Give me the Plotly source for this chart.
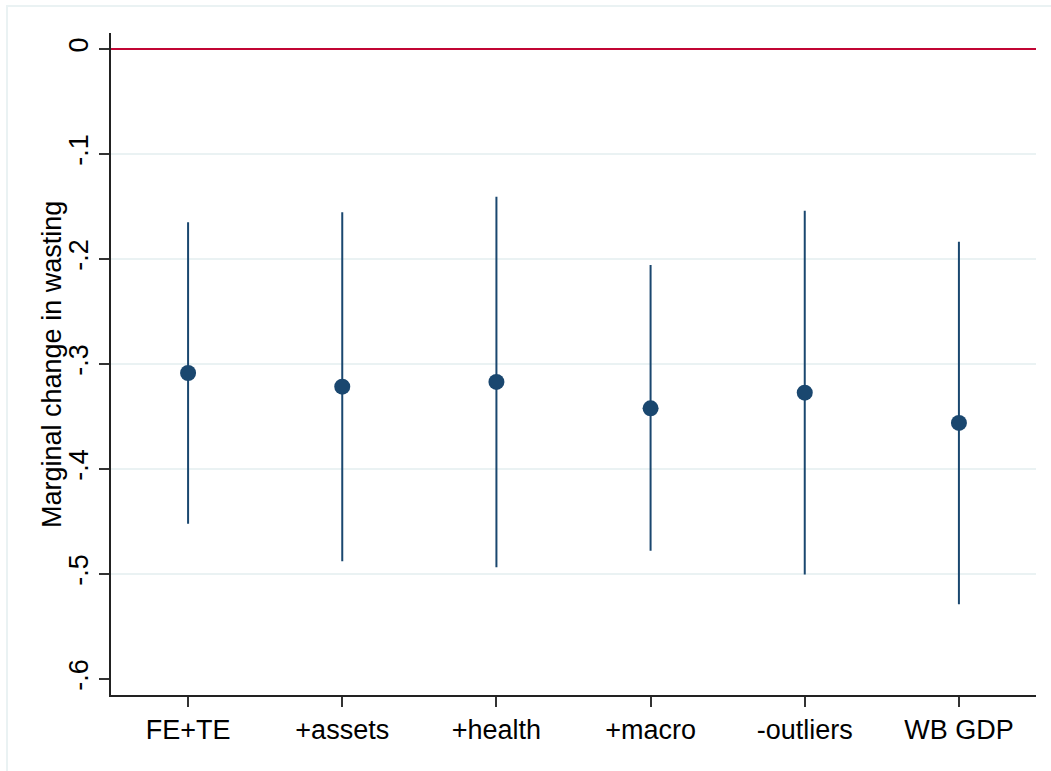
import plotly.graph_objects as go

# Model specifications and their estimated marginal effects with 95% CIs
specs = ["FE+TE", "+assets", "+health", "+macro", "-outliers", "WB GDP"]
estimate = [-0.3086, -0.3216, -0.3171, -0.3422, -0.3273, -0.3561]
ci_upper = [-0.1649, -0.1554, -0.1408, -0.2058, -0.1541, -0.1836]
ci_lower = [-0.4522, -0.4878, -0.4935, -0.4779, -0.5005, -0.5287]

y_ticks = [0, -0.1, -0.2, -0.3, -0.4, -0.5, -0.6]
y_tick_text = ["0", "-.1", "-.2", "-.3", "-.4", "-.5", "-.6"]
grid_vals = [-0.1, -0.2, -0.3, -0.4, -0.5]
y_title = "Marginal change in wasting"

navy = "#1a476f"
grid_col = "#eaf2f3"
font_fam = "Liberation Sans, Arial, sans-serif"
fsize = 27

x_pos = list(range(1, len(specs) + 1))
err_plus = [u - e for u, e in zip(ci_upper, estimate)]
err_minus = [e - l for e, l in zip(estimate, ci_lower)]

fig = go.Figure()

# light horizontal gridlines
shapes = []
for g in grid_vals:
    shapes.append(dict(type="line", xref="x", yref="y", x0=0.5, x1=6.5, y0=g, y1=g,
                       line=dict(color=grid_col, width=2), layer="below"))
# reference line at zero
shapes.append(dict(type="line", xref="x", yref="y", x0=0.5, x1=6.5, y0=0, y1=0,
                   line=dict(color="#c10534", width=2), layer="above"))
# outer graph-region border
shapes.append(dict(type="rect", xref="paper", yref="paper",
                   x0=-0.1124, x1=1.1, y0=-0.2, y1=1.0408,
                   line=dict(color=grid_col, width=2), fillcolor="rgba(0,0,0,0)",
                   layer="below"))

fig.add_trace(go.Scatter(
    x=x_pos, y=estimate, mode="markers",
    marker=dict(color=navy, size=16, line=dict(width=0)),
    error_y=dict(type="data", symmetric=False, array=err_plus, arrayminus=err_minus,
                 color=navy, thickness=2, width=0),
    showlegend=False, hoverinfo="skip",
))

# vertical axis title placed close to the tick labels
fig.add_annotation(
    text=y_title, xref="paper", yref="paper", x=-0.0638, y=0.5,
    xanchor="center", yanchor="middle", textangle=-90, showarrow=False,
    font=dict(size=fsize, family=font_fam, color="#000000"),
)

fig.update_layout(
    width=1051, height=771,
    margin=dict(l=111, r=15, t=33, b=76),
    paper_bgcolor="white", plot_bgcolor="white",
    font=dict(family=font_fam, size=fsize, color="#000000"),
    shapes=shapes,
    xaxis=dict(
        range=[0.5, 6.5], tickmode="array", tickvals=x_pos, ticktext=specs,
        showgrid=False, zeroline=False, showline=True, linecolor="#222222", linewidth=1.5,
        ticks="outside", ticklen=10, tickwidth=1.5, tickcolor="#333333",
        tickfont=dict(size=fsize, family=font_fam, color="#000000"),
    ),
    yaxis=dict(
        range=[-0.6152, 0.0152], tickmode="array", tickvals=y_ticks, ticktext=y_tick_text,
        tickangle=-90, showgrid=False, zeroline=False, showline=True,
        linecolor="#222222", linewidth=1.5,
        ticks="outside", ticklen=10, tickwidth=1.5, tickcolor="#333333",
        tickfont=dict(size=fsize, family=font_fam, color="#000000"),
    ),
)

fig.write_html("out.html")
